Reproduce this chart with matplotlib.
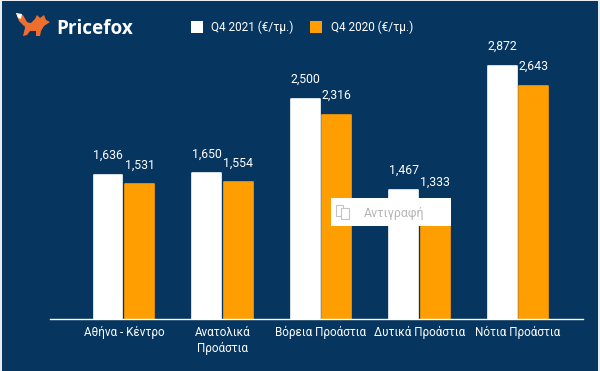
import matplotlib
matplotlib.use("Agg")
import matplotlib.pyplot as plt
from matplotlib.patches import Polygon, Rectangle
import numpy as np

plt.rcParams['font.family'] = ['Roboto', 'DejaVu Sans']

categories = ["Αθήνα - Κέντρο", "Ανατολικά\nΠροάστια", "Βόρεια Προάστια", "Δυτικά Προάστια", "Νότια Προάστια"]
q4_2021 = [1636, 1650, 2500, 1467, 2872]
q4_2020 = [1531, 1554, 2316, 1333, 2643]
series_names = ["Q4 2021 (€/τμ.)", "Q4 2020 (€/τμ.)"]

BG = "#06355f"
ORANGE = "#ff9e00"
W, H = 600, 371

fig = plt.figure(figsize=(W / 100, H / 100), dpi=100, facecolor=BG)

# plot area in pixels: axis line 50..583, baseline at y=319
ax = fig.add_axes([50 / W, (H - 319) / H, 533 / W, 280 / H], facecolor=BG)
x = np.arange(5)
bw = 0.29
off = 0.16
b1 = ax.bar(x - off, q4_2021, bw, color="white", edgecolor="white", linewidth=1.2)
b2 = ax.bar(x + off, q4_2020, bw, color=ORANGE, edgecolor=ORANGE, linewidth=1.2)
for b in list(b1) + list(b2):
    b.set_joinstyle("round")

ax.set_xlim(-0.751, 4.66)
ax.set_ylim(0, 280 / 0.0882)
for s in ["top", "left", "right"]:
    ax.spines[s].set_visible(False)
ax.spines["bottom"].set_color("white")
ax.spines["bottom"].set_linewidth(1)
ax.set_yticks([])
ax.set_xticks(x)
ax.set_xticklabels(categories, fontsize=8.4, color="white", linespacing=1.25)
ax.tick_params(axis="x", length=0, pad=5)

for xs, vals in ((x - off, q4_2021), (x + off, q4_2020)):
    for xi, v in zip(xs, vals):
        ax.annotate(f"{v:,}", (xi, v), xytext=(0, 13.8), textcoords="offset points",
                    ha="center", va="center", fontsize=8.8, color="white")

# overlay in pixel coords for logo, legend, popup
ov = fig.add_axes([0, 0, 1, 1], facecolor="none")
ov.set_xlim(0, W); ov.set_ylim(H, 0); ov.axis("off")

# screenshot edge
ov.add_patch(Rectangle((0, 0), W, 1, fc="#e8edf2", ec="none"))
ov.add_patch(Rectangle((0, 0), 2, H, fc="#e8edf2", ec="none"))
ov.add_patch(Rectangle((598, 0), 2, H, fc="#e8edf2", ec="none"))

# legend
ov.add_patch(Rectangle((191, 21), 12, 12, fc="white", ec="none"))
ov.add_patch(Rectangle((310, 21), 12, 12, fc=ORANGE, ec="none"))
ov.text(211, 27, series_names[0], color="white", fontsize=8.5, va="center")
ov.text(331, 27, series_names[1], color="white", fontsize=8.5, va="center")

# logo
fox = [(24, 22), (31, 23), (35, 19), (37, 15), (40, 18), (44, 15), (46, 20), (50, 22), (44, 26),
       (41, 31), (40, 36), (36, 36), (36, 31), (30, 31), (27, 35), (23, 36), (25, 28)]
tail = [(16, 13), (23, 15), (27, 22), (30, 24), (24, 26), (19, 21)]
ov.add_patch(Polygon(tail, fc="#ee6f2d", ec="none"))
ov.add_patch(Polygon([(16, 13), (22, 14), (21, 19), (18, 18)], fc="white", ec="none"))
ov.add_patch(Polygon(fox, fc="#ee6f2d", ec="none"))
ov.text(56, 28.5, "Pricefox", color="white", fontsize=13.6, fontweight="bold",
        family="Open Sans", va="center")

# copy popup left over the chart
ov.add_patch(Rectangle((331, 198), 120, 28, fc="white", ec="none"))
ov.add_patch(Rectangle((336, 205), 7, 11, fc="white", ec="#c4c4c4", lw=0.8))
ov.add_patch(Rectangle((341, 208), 8, 11, fc="white", ec="#c4c4c4", lw=0.8))
ov.text(364, 213, "Αντιγραφή", color="#b5b5b5", fontsize=8.9, va="center")

fig.savefig("out.png", dpi=100, facecolor=BG)
